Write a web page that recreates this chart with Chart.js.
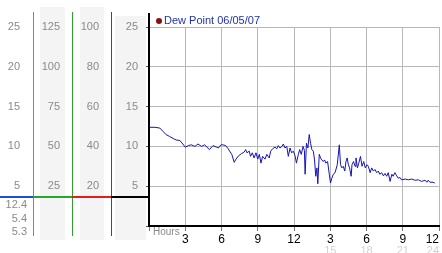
<!DOCTYPE html>
<html>
<head>
<meta charset="utf-8">
<script src="https://cdn.jsdelivr.net/npm/chart.js@4"></script>
<style>
  body { margin: 0; background: #fff; }
  canvas { display: block; }
</style>
</head>
<body>
<canvas id="dewChart" width="442" height="253"></canvas>
<script>
// hours since midnight and dew point readings
const hours = [0.0, 0.5, 0.9, 1.15, 1.4, 1.7, 2.0, 2.25, 2.55, 2.8, 3.0, 3.25, 3.5, 3.8, 4.05, 4.35, 4.6, 5.0, 5.3, 5.6,
    5.75, 5.95, 6.1, 6.35, 6.55, 6.85, 7.05, 7.2, 7.4, 7.65, 7.85, 8.0, 8.1, 8.3, 8.4, 8.55, 8.7, 8.85, 9.0, 9.13,
    9.27, 9.4, 9.6, 9.75, 9.95, 10.07, 10.23, 10.43, 10.57, 10.7, 10.84, 11.0, 11.12, 11.25, 11.4, 11.53, 11.67, 11.8, 11.95, 12.1,
    12.2, 12.36, 12.47, 12.6, 12.75, 12.86, 12.92, 13.03, 13.15, 13.26, 13.37, 13.48, 13.6, 13.7, 13.8, 13.9, 13.97, 14.09, 14.2, 14.3,
    14.42, 14.53, 14.64, 14.78, 14.92, 15.02, 15.13, 15.25, 15.4, 15.58, 15.75, 15.85, 15.96, 16.08, 16.2, 16.3, 16.4, 16.5, 16.6, 16.73,
    16.8, 16.93, 17.05, 17.13, 17.25, 17.36, 17.5, 17.63, 17.77, 17.9, 18.05, 18.15, 18.3, 18.43, 18.57, 18.7, 18.85, 18.98, 19.1, 19.25,
    19.4, 19.53, 19.67, 19.8, 19.95, 20.1, 20.2, 20.35, 20.5, 20.63, 20.77, 20.9, 21.2, 21.45, 21.75, 22.0, 22.3, 22.55, 22.85, 23.0,
    23.1, 23.25, 23.5, 23.65];
const dewPoint = [12.4, 12.4, 12.3, 11.9, 11.5, 11.25, 11.0, 10.8, 10.75, 10.3, 9.9, 10.1, 10.2, 10.0, 10.3, 10.0, 10.2, 9.6, 10.1, 9.9,
    9.8, 10.2, 10.2, 10.1, 9.7, 9.0, 8.0, 8.4, 8.8, 9.1, 9.25, 9.6, 9.2, 9.4, 8.75, 9.2, 8.55, 9.2, 8.4, 9.0,
    7.9, 8.75, 8.4, 9.0, 8.55, 9.4, 9.7, 9.9, 9.7, 10.1, 9.8, 10.0, 10.3, 9.8, 10.0, 8.75, 9.8, 9.2, 9.4, 8.75,
    7.9, 9.0, 9.6, 9.0, 10.0, 9.5, 6.5, 10.4, 9.8, 11.5, 10.4, 9.6, 9.4, 8.3, 6.25, 7.3, 5.3, 9.0, 8.55, 8.3,
    8.1, 8.3, 7.9, 8.1, 6.5, 5.4, 6.0, 6.5, 6.7, 7.7, 10.2, 7.7, 7.3, 7.5, 6.9, 8.1, 8.55, 7.7, 7.3, 6.25,
    7.7, 8.1, 7.5, 8.55, 7.3, 7.9, 8.75, 7.5, 8.1, 7.3, 7.7, 7.5, 6.7, 7.3, 6.9, 7.1, 6.7, 6.9, 6.5, 6.7,
    6.3, 6.6, 6.25, 6.7, 5.6, 6.5, 6.25, 6.7, 6.3, 6.0, 6.1, 5.8, 5.9, 5.8, 5.9, 5.75, 5.8, 5.6, 5.75, 5.5,
    5.75, 5.5, 5.5, 5.4];

const seriesLabel = 'Dew Point 06/05/07';
const hourTicks = [0, 3, 6, 9, 12, 15, 18, 21, 24];
// the four scale columns on the left: [min, max, step]
const col1Range = [0, 25, 5];
const col2Range = [0, 125, 25];
const col3Range = [0, 100, 20];
const col4Range = [0, 25, 5];

const summary = [Math.max(...dewPoint), dewPoint[dewPoint.length - 1], Math.min(...dewPoint)];

const gray = '#8a8a8a';
const font = { family: 'Liberation Sans, Arial, sans-serif', size: 11 };

function sideAxis(range, width, pad, weight) {
    return {
        position: 'left', weight: weight,
        min: range[0], max: range[1],
        ticks: { stepSize: range[2], color: gray, padding: pad, font: font,
            callback: v => v === range[0] ? '' : v },
        grid: { display: false, drawTicks: false },
        border: { display: false },
        afterFit: s => { s.width = width; }
    };
}

const extras = {
    id: 'extras',
    beforeDraw(chart) {
        const ctx = chart.ctx, s = chart.scales;
        ctx.save();
        ctx.fillStyle = '#f4f4f4';
        ctx.fillRect(s.c2.left + 7, 7, s.c2.width - 14, 233);
        ctx.fillRect(s.c3.left + 8, 7, s.c3.width - 15, 233);
        ctx.fillRect(s.y.left + 4, 16, s.y.width - 7, 224);
        ctx.restore();
    },
    afterDraw(chart) {
        const ctx = chart.ctx, s = chart.scales, area = chart.chartArea;
        ctx.save();
        // vertical separators
        const vline = (x, y0, y1, color, w) => {
            ctx.strokeStyle = color; ctx.lineWidth = w;
            ctx.beginPath(); ctx.moveTo(x, y0); ctx.lineTo(x, y1); ctx.stroke();
        };
        vline(s.c1.right + 0.5, 12, 236, '#3a9ad6', 1);
        vline(s.c2.right + 0.5, 12, 236, '#2f9f2f', 1);
        vline(s.c3.right + 0.5, 12, 236, '#a82424', 1);
        vline(area.left, 13, area.bottom, '#000', 2);
        // coloured band under the scales
        const yb = 197;
        const hline = (x0, x1, color) => {
            ctx.strokeStyle = color; ctx.lineWidth = 2;
            ctx.beginPath(); ctx.moveTo(x0, yb); ctx.lineTo(x1, yb); ctx.stroke();
        };
        hline(0, s.c1.right, '#1d4fd0');
        hline(s.c1.right, s.c2.right, '#28a828');
        hline(s.c2.right, s.c3.right, '#dc2020');
        hline(s.c3.right, area.left, '#000');
        // max / last / min
        ctx.fillStyle = gray;
        ctx.font = '11px Liberation Sans, Arial, sans-serif';
        ctx.textAlign = 'right';
        ctx.textBaseline = 'middle';
        summary.forEach((v, i) => ctx.fillText(v.toFixed(1), 27, 205 + i * 13.5));
        // x axis caption
        ctx.textAlign = 'left';
        ctx.font = '10px Liberation Sans, Arial, sans-serif';
        ctx.fillText('Hours', 153, 232);
        // legend
        ctx.fillStyle = '#8b0f0f';
        ctx.beginPath(); ctx.arc(159, 21, 3, 0, Math.PI * 2); ctx.fill();
        ctx.fillStyle = '#2233aa';
        ctx.font = '11px Liberation Sans, Arial, sans-serif';
        ctx.fillText(seriesLabel, 164, 21);
        ctx.restore();
    }
};

new Chart(document.getElementById('dewChart').getContext('2d'), {
    type: 'line',
    data: {
        labels: hours,
        datasets: [{
            label: seriesLabel,
            data: hours.map((h, i) => ({ x: h, y: dewPoint[i] })),
            borderColor: '#1414b4',
            borderWidth: 1,
            pointRadius: 0,
            tension: 0,
            fill: false,
            yAxisID: 'y',
            xAxisID: 'x'
        }]
    },
    options: {
        responsive: false,
        animation: false,
        devicePixelRatio: 1,
        layout: { padding: { top: 27, right: 3, left: 0, bottom: 0 } },
        plugins: { legend: { display: false }, tooltip: { enabled: false } },
        scales: {
            x: {
                type: 'linear', position: 'bottom', min: 0, max: 24,
                afterBuildTicks: s => { s.ticks = hourTicks.map(v => ({ value: v })); },
                ticks: { color: '#000', padding: 1, maxRotation: 0, autoSkip: false, align: 'inner',
                    font: { family: 'Liberation Sans, Arial, sans-serif', size: 12 },
                    callback: v => v === 0 ? '' : String(v > 12 ? v - 12 : v) },
                grid: { color: '#b8b8b8', tickLength: 5, tickColor: '#777' },
                border: { color: '#000', width: 2 },
                afterFit: s => { s.height = 18; s.paddingLeft = 0; s.paddingRight = 0; }
            },
            x2: {
                type: 'linear', position: 'bottom', min: 0, max: 24,
                afterBuildTicks: s => { s.ticks = hourTicks.map(v => ({ value: v })); },
                ticks: { color: '#d2d2d2', padding: 0, maxRotation: 0, autoSkip: false, align: 'inner', font: font,
                    callback: v => v > 12 ? String(v) : '' },
                grid: { display: false, drawTicks: false },
                border: { display: false },
                afterFit: s => { s.height = 9; s.paddingLeft = 0; s.paddingRight = 0; }
            },
            y: {
                position: 'left', weight: 0,
                min: col4Range[0], max: col4Range[1],
                ticks: { stepSize: col4Range[2], color: gray, padding: 8, font: font,
                    callback: v => v === col4Range[0] ? '' : v },
                grid: { color: '#b8b8b8', tickLength: 3, tickColor: '#555' },
                border: { display: false },
                afterFit: s => { s.width = 38; }
            },
            c3: sideAxis(col3Range, 39, 12, 1),
            c2: sideAxis(col2Range, 39, 12, 2),
            c1: sideAxis(col1Range, 33, 13, 3)
        }
    },
    plugins: [extras]
});
</script>
</body>
</html>
